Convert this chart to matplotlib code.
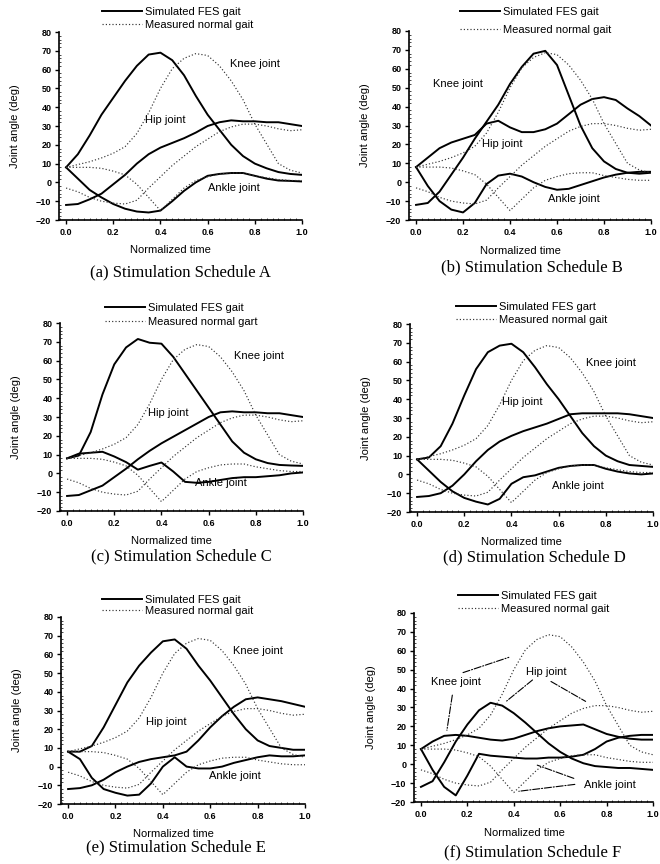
import matplotlib
matplotlib.use('Agg')
import matplotlib.pyplot as plt
from matplotlib.ticker import MultipleLocator

plt.rcParams['font.family'] = ['Liberation Sans', 'DejaVu Sans']

# normalized time grid
T = [0.0, 0.05, 0.1, 0.15, 0.2, 0.25, 0.3, 0.35, 0.4, 0.45, 0.5,
     0.55, 0.6, 0.65, 0.7, 0.75, 0.8, 0.85, 0.9, 0.95, 1.0]

# measured normal gait (same in every panel)
meas_knee = [8, 9.5, 11, 13, 15.5, 19, 26, 37, 50, 60.5, 66, 68.5, 67.5, 62, 54, 44, 31, 20.5, 10, 6.5, 5]
meas_hip = [-3, -5, -8, -10, -11, -11.5, -9.5, -3, 3, 9, 14, 19, 23, 27, 29.5, 31, 31, 30, 28.5, 27.5, 28]
meas_ankle = [8, 8, 8, 7.5, 6, 4, -1, -8, -15, -9, -3, 1, 3, 4.5, 5, 5, 3.5, 2.5, 1.5, 1, 1]

# simulated FES gait, schedule A..F
knee_A = [8, 15, 25, 36, 45, 54, 62, 68, 69, 65, 57, 46, 36, 28, 20, 14, 10, 7.5, 5.5, 4.5, 4]
hip_A = [-12, -11.5, -9, -6, -1, 4, 10, 15, 18.5, 21, 23.5, 26.5, 30, 32, 33, 32.5, 32.5, 32, 32, 31, 30]
ankle_A = [8, 2, -4, -8, -11.5, -14, -15.5, -16, -15, -10, -4.5, 0, 3.5, 4.5, 5, 5, 3.5, 2, 1, 0.8, 0.5]

knee_B = [-12, -11, -5, 4, 13, 23, 32, 41, 52, 61, 68, 69.5, 62, 46, 30, 18, 11, 7, 5, 4.5, 5]
hip_B = [8, 13, 18, 21, 23, 25, 31, 32.5, 29, 26.5, 26.5, 28, 31, 36, 41, 44, 45, 43.5, 39, 35, 30]
ankle_B = [8, -2, -10, -14.5, -16, -11, -1, 3.5, 4.5, 3, 0, -2.5, -4, -3.5, -1.5, 0.5, 2.5, 4, 5, 5.5, 5.5]

knee_C = [8, 9.5, 22, 42, 58, 67, 71.5, 69.5, 69, 62, 53, 44, 35, 26, 17, 11, 7.5, 5.5, 4.5, 4.2, 4]
hip_C = [-12, -11.5, -9, -6.5, -2, 2.5, 7.5, 12, 16, 19.5, 23, 26.5, 30, 32.5, 33, 32.5, 32.5, 32, 32, 31, 30]
ankle_C = [8, 10.5, 11, 11.5, 9, 6, 2, 4, 5.8, 1, -4.5, -5, -4.5, -3.5, -2.5, -2, -2, -1.5, -1, 0, 0.5]

knee_D = [8, 9, 15, 27, 42, 56, 65, 68.5, 69.5, 65, 57, 48, 40, 31, 22, 15, 10, 7, 5, 4.5, 4]
hip_D = [-12, -11.5, -10, -6, 0, 7, 13, 17.5, 20.5, 23, 25, 27, 29.5, 32, 32.5, 32.5, 32.5, 32.5, 32, 31, 30]
ankle_D = [8, 2, -4, -9, -12.5, -14.5, -16, -13, -5, -1.5, -0.5, 1.5, 3.5, 4.5, 5, 5, 3, 1.5, 0.5, 0, 0.5]

knee_E = [8, 8, 11, 21, 33, 45, 54, 61, 67, 68, 63, 54, 46, 37, 28, 20, 14, 11, 10, 9, 9]
hip_E = [-12, -11.5, -10, -7, -3, 0, 2.5, 4, 5, 6, 8, 14, 21, 27, 32, 36, 37, 36, 35, 33.5, 32]
ankle_E = [8, 4, -6, -12, -14, -15.5, -15, -9, 0, 5, 0, -1, -1, 0, 2, 3.5, 5, 6, 5.5, 5.5, 6]

knee_F = [8, 12, 15, 15.5, 15, 14, 13, 12.5, 13.5, 15.5, 17.5, 19, 20, 20.5, 21, 18.5, 16, 14.5, 13.5, 13, 13]
hip_F = [-12, -9, 1, 12, 21, 28.5, 32.5, 31, 27, 22, 16.5, 11, 6.5, 3, 0.5, -1, -1.5, -2, -2, -2.5, -3]
ankle_F = [8, -3, -12, -16.5, -6, 5.5, 4.5, 4, 3.5, 3, 3, 3.5, 3.5, 4, 5, 8, 12, 14, 15, 15.5, 15.5]

W, H = 660, 864
fig = plt.figure(figsize=(W / 100, H / 100), dpi=100)


def add_axes_px(left, right, top, bottom):
    return fig.add_axes([left / W, 1 - bottom / H, (right - left) / W, (bottom - top) / H])


panels = [
    dict(box=(59, 302, 32, 220), sim=(knee_A, hip_A, ankle_A),
         leg=(102, 7, 14), leg_labels=('Simulated FES gait', 'Measured normal gait'),
         labels={'Knee joint': (0.80, 63), 'Hip joint': (0.42, 33), 'Ankle joint': (0.71, -3)},
         cap='(a) Stimulation Schedule A', cap_xy=(180, 272)),
    dict(box=(409, 651, 31, 220), sim=(knee_B, hip_B, ankle_B),
         leg=(460, 7, 19), leg_labels=('Simulated FES gait', 'Measured normal gait'),
         labels={'Knee joint': (0.18, 52), 'Hip joint': (0.365, 20), 'Ankle joint': (0.67, -9)},
         cap='(b) Stimulation Schedule B', cap_xy=(532, 267)),
    dict(box=(60, 303, 323, 511), sim=(knee_C, hip_C, ankle_C),
         leg=(105, 303, 15), leg_labels=('Simulated FES gait', 'Measured normal gart'),
         labels={'Knee joint': (0.815, 62.5), 'Hip joint': (0.43, 32), 'Ankle joint': (0.65, -5)},
         cap='(c) Stimulation Schedule C', cap_xy=(181, 556)),
    dict(box=(410, 653, 324, 512), sim=(knee_D, hip_D, ankle_D),
         leg=(456, 302, 14), leg_labels=('Simulated FES gart', 'Measured normal gait'),
         labels={'Knee joint': (0.82, 59), 'Hip joint': (0.445, 38.5), 'Ankle joint': (0.68, -6)},
         cap='(d) Stimulation Schedule D', cap_xy=(534, 557)),
    dict(box=(61, 305, 617, 804), sim=(knee_E, hip_E, ankle_E),
         leg=(102, 595, 12), leg_labels=('Simulated FES gait', 'Measured normal gait'),
         labels={'Knee joint': (0.80, 62), 'Hip joint': (0.415, 24), 'Ankle joint': (0.705, -5)},
         cap='(e) Stimulation Schedule E', cap_xy=(176, 847)),
    dict(box=(414, 653, 613, 802), sim=(knee_F, hip_F, ankle_F),
         leg=(458, 591, 14), leg_labels=('Simulated FES gait', 'Measured normal gait'),
         labels={'Knee joint': (0.15, 43.5), 'Hip joint': (0.54, 49), 'Ankle joint': (0.815, -11)},
         cap='(f) Stimulation Schedule F', cap_xy=(533, 852)),
]

# leader lines of panel F: (from, to)
f_leaders = [((0.17, 48), (0.39, 57)), ((0.137, 38), (0.11, 16.5)),
             ((0.49, 45.5), (0.36, 32.5)), ((0.55, 44.5), (0.72, 32.5)),
             ((0.675, -10.5), (0.41, -14.5)), ((0.67, -8), (0.49, 0))]

for p in panels:
    ax = add_axes_px(*p['box'])
    sims = []
    for y in p['sim']:
        ln, = ax.plot(T, y, color='black', lw=1.4, solid_joinstyle='round')
        sims.append(ln)
    meas = []
    for y in (meas_knee, meas_hip, meas_ankle):
        ln, = ax.plot(T, y, color='#333333', lw=0.85, linestyle=(0, (1, 1.8)))
        meas.append(ln)

    ax.set_xlim(-0.03, 1.0)
    ax.set_ylim(-20, 80)
    ax.xaxis.set_major_locator(MultipleLocator(0.2))
    ax.xaxis.set_minor_locator(MultipleLocator(0.025))
    ax.yaxis.set_major_locator(MultipleLocator(10))
    ax.yaxis.set_minor_locator(MultipleLocator(2))
    ax.xaxis.set_major_formatter(plt.FuncFormatter(lambda v, _: f'{v:.1f}'))
    for s in ('top', 'right'):
        ax.spines[s].set_visible(False)
    for s in ('left', 'bottom'):
        ax.spines[s].set_linewidth(1.2)
    ax.tick_params(which='major', direction='out', length=3, width=1, labelsize=6.5, pad=2.5)
    ax.tick_params(which='minor', direction='in', length=1.5, width=0.5)
    for lab in ax.get_xticklabels() + ax.get_yticklabels():
        lab.set_fontweight('bold')

    ax.set_ylabel('Joint angle (deg)', fontsize=8)
    ax.yaxis.set_label_coords(-0.16, 0.5)
    ax.set_xlabel('Normalized time', fontsize=8)
    ax.xaxis.set_label_coords(0.46, -0.135)

    for txt, (x, y) in p['labels'].items():
        ax.text(x, y, txt, fontsize=8, ha='center', va='center')

    lx, ly, gap = p['leg']
    ax.legend([sims[0], meas[0]], p['leg_labels'], loc='upper left',
              bbox_to_anchor=(lx / W, 1 - ly / H), bbox_transform=fig.transFigure,
              frameon=False, fontsize=8, handlelength=3.6, handletextpad=0.3,
              borderpad=0, borderaxespad=0, labelspacing=max(gap - 11, 0) / 11)

    fig.text(p['cap_xy'][0] / W, 1 - p['cap_xy'][1] / H, p['cap'],
             fontsize=12, family='Liberation Serif', ha='center', va='center')

    if p['cap'].endswith('F'):
        for (x0, y0), (x1, y1) in f_leaders:
            ax.annotate('', xy=(x1, y1), xytext=(x0, y0),
                        arrowprops=dict(arrowstyle='-', linestyle='-.', lw=0.8, color='black'))

fig.savefig('out.png', dpi=100)
